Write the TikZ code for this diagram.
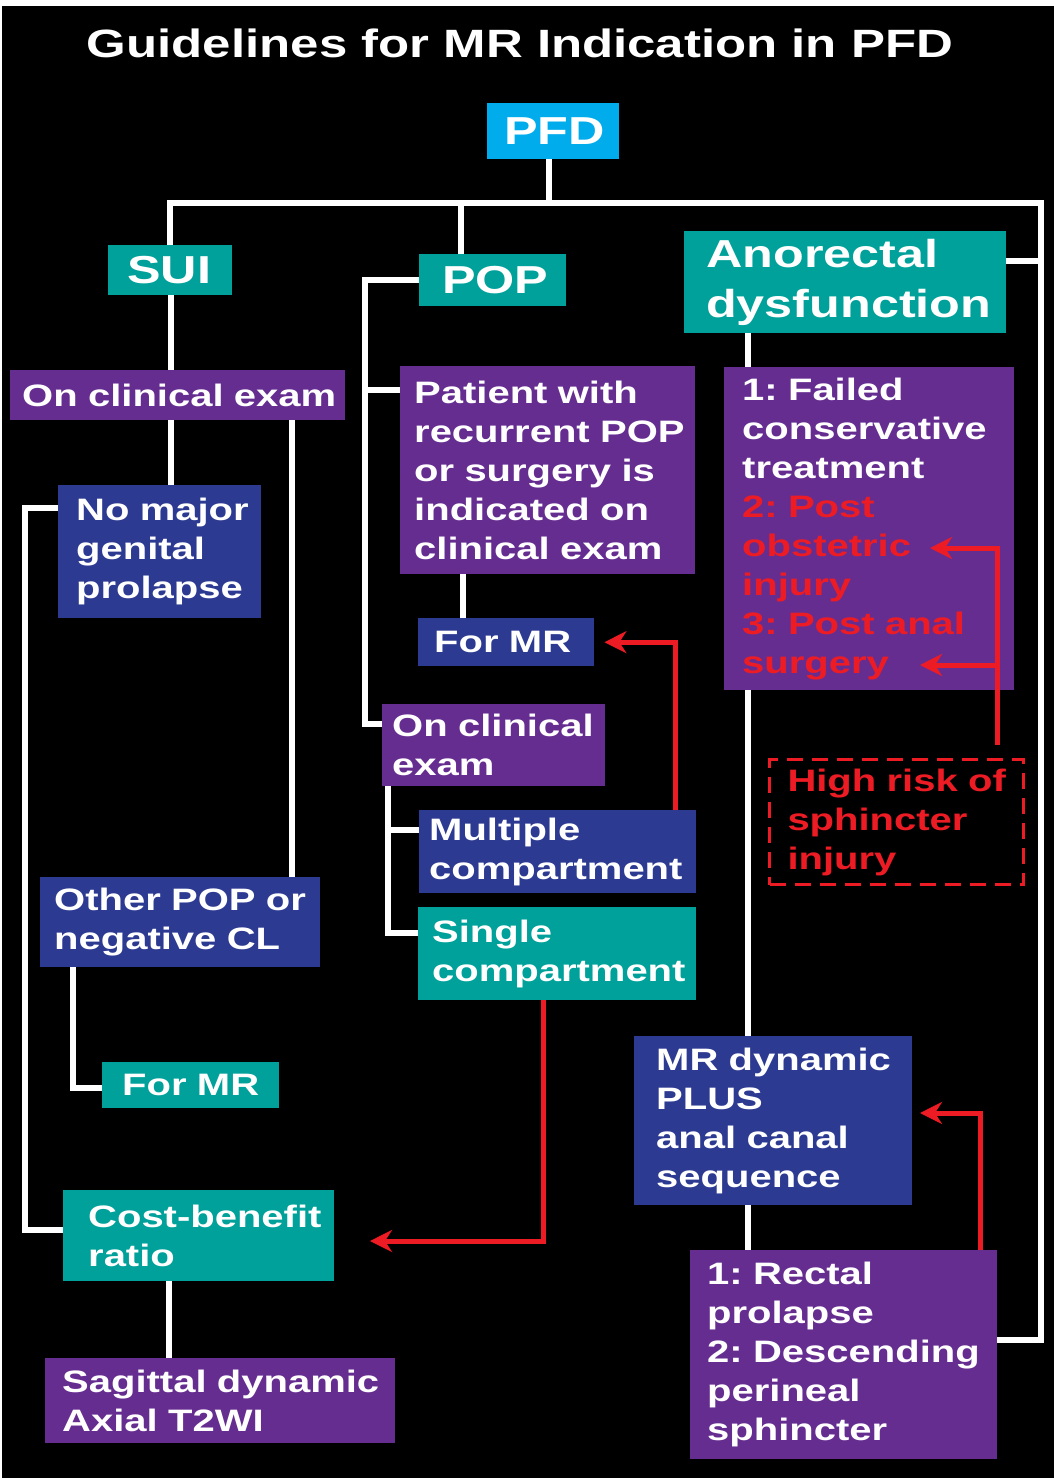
\documentclass[tikz,border=0pt]{standalone}
\usepackage{fontspec}
\setmainfont{Liberation Sans}[FakeStretch=1.29]
\usetikzlibrary{arrows.meta}
\definecolor{purp}{RGB}{102,45,145}
\definecolor{navy}{RGB}{44,58,145}
\definecolor{tealc}{RGB}{0,161,154}
\definecolor{cyanc}{RGB}{0,172,236}
\definecolor{redc}{RGB}{237,28,36}
\newcommand\bodyfont{\bfseries\fontsize{31}{39}\selectfont\frenchspacing}
\newcommand\bigfont{\bfseries\fontsize{39}{50}\selectfont\frenchspacing}
\newcommand\titlefont{\bfseries\fontsize{39.5}{48}\selectfont}
\tikzset{
  bx/.style={inner sep=0pt, anchor=north west, align=left, text=white, font=\bodyfont},
  big/.style={font=\bigfont},
  wl/.style={white, line width=6pt, line join=miter},
  ra/.style={redc, line width=5pt, line join=miter, -{Stealth[length=22pt,width=22pt,inset=7pt]}},
  riskbox/.style={draw=redc, line width=3pt, dash pattern=on 16pt off 9pt, text=redc},
}
% #1 options, #2 name, #3 fill, #4 x1, #5 y1, #6 x2, #7 y2, #8 left pad, #9 text
\newcommand\mybox[9][]{%
  \pgfmathsetmacro\bw{#6-#4}\pgfmathsetmacro\bh{#7-#5}%
  \node[bx, fill=#3, minimum height=\bh pt, text width=\bw pt, #1] (#2) at (#4,#5) {\leftskip=#8pt\relax #9\par};%
}
\begin{document}
\begin{tikzpicture}[x=1pt,y=-1pt]
\useasboundingbox (0,0) rectangle (1054,1478);
\fill[white] (0,0) rectangle (1054,1478);
\fill[black] (2,6) rectangle (1054,1478);
\node[text=white, font=\titlefont] (title) at (520,43) {Guidelines for MR Indication in PFD};

% top level
\mybox[big]{pfd}{cyanc}{487}{103}{619}{159}{17}{PFD}
\mybox[big]{sui}{tealc}{108}{245}{232}{295}{19}{SUI}
\mybox[big]{pop}{tealc}{419}{254}{566}{306}{23}{POP}
\mybox[big]{ano}{tealc}{684}{231}{1006}{333}{22}{Anorectal\\dysfunction}
% left column
\mybox{sce}{purp}{10}{370}{345}{420}{12}{On clinical exam}
\mybox{nomaj}{navy}{58}{485}{261}{618}{18}{No major\\genital\\prolapse}
\mybox{other}{navy}{40}{877}{320}{967}{14}{Other POP or\\negative CL}
\mybox{formra}{tealc}{102}{1062}{279}{1108}{20}{For MR}
\mybox{cost}{tealc}{63}{1190}{334}{1281}{25}{Cost-benefit\\ratio}
\mybox{sag}{purp}{45}{1358}{395}{1443}{17}{Sagittal dynamic\\Axial T2WI}
% middle column
\mybox{patient}{purp}{400}{366}{695}{574}{14}{Patient with\\recurrent POP\\or surgery is\\indicated on\\clinical exam}
\mybox{formrb}{navy}{418}{618}{594}{666}{16}{For MR}
\mybox{oceb}{purp}{382}{704}{605}{786}{10}{On clinical\\exam}
\mybox{multi}{navy}{419}{810}{696}{893}{10}{Multiple\\compartment}
\mybox{single}{tealc}{418}{907}{696}{1000}{14}{Single\\compartment}
% right column
\mybox{failed}{purp}{724}{367}{1014}{690}{18}{1: Failed\\conservative\\treatment\\\textcolor{redc}{2: Post}\\\textcolor{redc}{obstetric}\\\textcolor{redc}{injury}\\\textcolor{redc}{3: Post anal}\\\textcolor{redc}{surgery}}
\mybox[riskbox]{risk}{black}{768}{758}{1022}{883}{18}{High risk of\\sphincter\\injury}
\mybox{mrdyn}{navy}{634}{1036}{912}{1205}{22}{MR dynamic\\PLUS\\anal canal\\sequence}
\mybox{rect}{purp}{690}{1250}{997}{1459}{17}{1: Rectal\\prolapse\\2: Descending\\perineal\\sphincter}

% helper coordinates for free arrow ends
\coordinate (costin) at (370,1241);
\coordinate (riskout) at (997,745);
\coordinate (obstin) at (930,548);
\coordinate (surgin) at (920,665);
\coordinate (mrin) at (920,1113);

% white connectors
\draw[wl] (pfd.south -| 549,0) -- (549,203);
\draw[wl] (sui.north -| 170,0) |- (1041,203) -- (1041,1340) -- (rect.east |- 0,1340);
\draw[wl] (pop.north -| 461,0) -- (461,203);
\draw[wl] (ano.east |- 0,261) -- (1041,261);
\draw[wl] (sui.south -| 171,0) -- (sce.north -| 171,0);
\draw[wl] (sce.south -| 171,0) -- (nomaj.north -| 171,0);
\draw[wl] (sce.south -| 292,0) -- (other.north -| 292,0);
\draw[wl] (nomaj.west |- 0,508) -| (25,1230) -- (cost.west |- 0,1230);
\draw[wl] (other.south -| 73,0) |- (formra.west |- 0,1088);
\draw[wl] (cost.south -| 169,0) -- (sag.north -| 169,0);
\draw[wl] (pop.west) -| (365,724) -- (oceb.west |- 0,724);
\draw[wl] (365,390) -- (patient.west |- 0,390);
\draw[wl] (patient.south -| 463,0) -- (formrb.north -| 463,0);
\draw[wl] (oceb.south -| 388,0) |- (single.west |- 0,933);
\draw[wl] (388,830) -- (multi.west |- 0,830);
\draw[wl] (ano.south -| 748,0) -- (failed.north -| 748,0);
\draw[wl] (failed.south -| 748,0) -- (mrdyn.north -| 748,0);
\draw[wl] (mrdyn.south -| 748,0) -- (rect.north -| 748,0);

% red arrows
\draw[ra] (multi.north -| 675,0) |- ([xshift=10pt]formrb.east);
\draw[ra] (single.south -| 543,0) |- (costin);
\draw[ra] (riskout) |- (obstin);
\draw[ra] (riskout |- surgin) -- (surgin);
\draw[ra] (rect.north -| 980,0) |- (mrin);
\end{tikzpicture}
\end{document}
